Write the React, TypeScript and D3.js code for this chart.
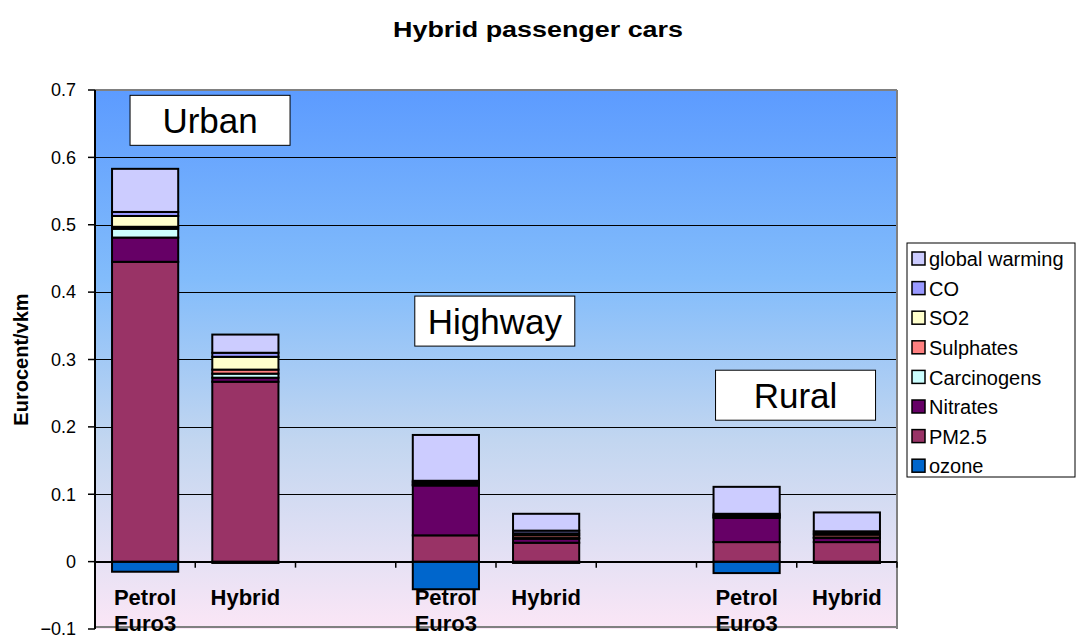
import React from 'react';
import * as d3 from 'd3';

// categories (8 slots, two empty spacers between groups)
const categories = ['Petrol\nEuro3', 'Hybrid', '', 'Petrol\nEuro3', 'Hybrid', '', 'Petrol\nEuro3', 'Hybrid'];

// series values, Eurocent/vkm
const ozone = [-0.015, -0.002, 0, -0.041, -0.002, 0, -0.017, -0.002];
const pm25 = [0.445, 0.267, 0, 0.039, 0.028, 0, 0.029, 0.029];
const nitrates = [0.036, 0.006, 0, 0.074, 0.006, 0, 0.036, 0.006];
const carcinogens = [0.013, 0.006, 0, 0.001, 0.001, 0, 0.001, 0.001];
const sulphates = [0.003, 0.006, 0, 0.002, 0.004, 0, 0.002, 0.004];
const so2 = [0.016, 0.019, 0, 0.002, 0.003, 0, 0.001, 0.002];
const co = [0.006, 0.006, 0, 0.002, 0.004, 0, 0.002, 0.003];
const globalWarming = [0.064, 0.027, 0, 0.068, 0.025, 0, 0.040, 0.028];

const seriesNames = ['ozone', 'PM2.5', 'Nitrates', 'Carcinogens', 'Sulphates', 'SO2', 'CO', 'global warming'];
const seriesColors = ['#0066CC', '#993366', '#660066', '#CCFFFF', '#FF8080', '#FFFFCC', '#9999FF', '#CCCCFF'];

const yTicks = [-0.1, 0, 0.1, 0.2, 0.3, 0.4, 0.5, 0.6, 0.7];

const regionLabels = ['Urban', 'Highway', 'Rural'];

const W = 1076;
const H = 636;
const margin = { top: 90, left: 95, right: 179, bottom: 7 };
const font = '"Liberation Sans", Arial, sans-serif';

export default function App() {
  const seriesValues = [ozone, pm25, nitrates, carcinogens, sulphates, so2, co, globalWarming];
  const rows = categories.map((c, i) => {
    const r: Record<string, number> = { idx: i };
    seriesNames.forEach((s, k) => (r[s] = seriesValues[k][i]));
    return r;
  });
  const stacked = d3.stack<Record<string, number>>()
    .keys(seriesNames)
    .offset(d3.stackOffsetDiverging)(rows);

  const x = d3.scaleBand<number>()
    .domain(d3.range(categories.length))
    .range([margin.left, W - margin.right])
    .paddingInner(0.34)
    .paddingOuter(0.17);
  const y = d3.scaleLinear().domain([-0.1, 0.7]).range([H - margin.bottom, margin.top]);

  const x0 = margin.left;
  const x1 = W - margin.right;
  const step = x.step();

  // region annotation boxes sit at the first bar of each group
  const regionBoxes = [
    { text: regionLabels[0], cx: x(0)! + 98, cy: y(0.655) },
    { text: regionLabels[1], cx: x(3)! + 82, cy: y(0.357) },
    { text: regionLabels[2], cx: x(6)! + 82, cy: y(0.247) },
  ];

  return (
    <svg width={W} height={H} style={{ position: 'absolute', left: 0, top: 0, background: '#fff' }} fontFamily={font}>
      <defs>
        <linearGradient id="bg" x1="0" y1="0" x2="0" y2="1">
          <stop offset="0%" stopColor="#5c9bff" />
          <stop offset="35%" stopColor="#82bcfb" />
          <stop offset="65%" stopColor="#c2d6f0" />
          <stop offset="85%" stopColor="#e2e0f4" />
          <stop offset="100%" stopColor="#fbe6f6" />
        </linearGradient>
      </defs>

      <text x={538} y={37} textAnchor="middle" fontSize={22} fontWeight="bold" textLength={290} lengthAdjust="spacingAndGlyphs">Hybrid passenger cars</text>

      <rect x={x0} y={y(0.7)} width={x1 - x0} height={y(-0.1) - y(0.7)} fill="url(#bg)" />

      {/* gridlines */}
      {yTicks.filter(t => t > -0.1 && t < 0.7).map(t => (
        <line key={t} x1={x0} x2={x1} y1={Math.round(y(t)) + 0.5} y2={Math.round(y(t)) + 0.5} stroke="#000" strokeWidth={1} />
      ))}
      <line x1={x0} x2={x1} y1={y(0.7)} y2={y(0.7)} stroke="#808080" strokeWidth={2} />
      <line x1={x1} x2={x1} y1={y(0.7)} y2={y(-0.1)} stroke="#808080" strokeWidth={2} />
      <line x1={x0} x2={x1} y1={y(-0.1) - 2} y2={y(-0.1) - 2} stroke="#808080" strokeWidth={2} />

      {/* bars */}
      {stacked.map((layer, k) => (
        <g key={layer.key} fill={seriesColors[k]} stroke="#000" strokeWidth={2}>
          {layer.map((d, i) => {
            if (d[1] - d[0] === 0) return null;
            return (
              <rect key={i} x={x(i)} y={y(d[1])} width={x.bandwidth()} height={Math.max(0.5, y(d[0]) - y(d[1]))} />
            );
          })}
        </g>
      ))}

      {/* y axis */}
      <line x1={x0} x2={x0} y1={y(0.7)} y2={y(-0.1)} stroke="#000" strokeWidth={2} />
      {yTicks.map(t => (
        <g key={t}>
          <line x1={x0 - 7} x2={x0} y1={y(t)} y2={y(t)} stroke="#000" strokeWidth={1.5} />
          <text x={x0 - 19} y={y(t)} dy="0.35em" textAnchor="end" fontSize={18}>{d3.format('.1~f')(t)}</text>
        </g>
      ))}
      <text transform={`translate(28,${(y(0.7) + y(-0.1)) / 2}) rotate(-90)`} textAnchor="middle" fontSize={20} fontWeight="bold">Eurocent/vkm</text>

      {/* zero axis with ticks at category boundaries */}
      <line x1={x0} x2={x1} y1={y(0)} y2={y(0)} stroke="#000" strokeWidth={1.5} />
      {d3.range(categories.length + 1).map(i => (
        <line key={i} x1={x0 + i * step} x2={x0 + i * step} y1={y(0)} y2={y(0) + 6} stroke="#000" strokeWidth={1.5} />
      ))}
      {categories.map((c, i) => (
        <text key={i} x={x(i)! + x.bandwidth() / 2} y={605} textAnchor="middle" fontSize={22} fontWeight="bold">
          {c.split('\n').map((line, j) => (
            <tspan key={j} x={x(i)! + x.bandwidth() / 2} dy={j === 0 ? 0 : 26}>{line}</tspan>
          ))}
        </text>
      ))}

      {/* region annotations */}
      {regionBoxes.map(b => (
        <g key={b.text}>
          <rect x={b.cx - 80} y={b.cy - 25} width={160} height={50} fill="#fff" stroke="#000" strokeWidth={1} />
          <text x={b.cx} y={b.cy} dy="0.36em" textAnchor="middle" fontSize={35}>{b.text}</text>
        </g>
      ))}

      {/* legend */}
      <g transform="translate(907,243)">
        <rect x={0} y={0} width={168} height={234} fill="#fff" stroke="#000" strokeWidth={1} />
        {seriesNames.slice().reverse().map((s, j) => {
          const k = seriesNames.length - 1 - j;
          const cy = 16 + j * 29.6;
          return (
            <g key={s}>
              <rect x={5} y={cy - 7} width={13} height={13} fill={seriesColors[k]} stroke="#000" strokeWidth={1.5} />
              <text x={22} y={cy} dy="0.36em" fontSize={20}>{s}</text>
            </g>
          );
        })}
      </g>
    </svg>
  );
}
